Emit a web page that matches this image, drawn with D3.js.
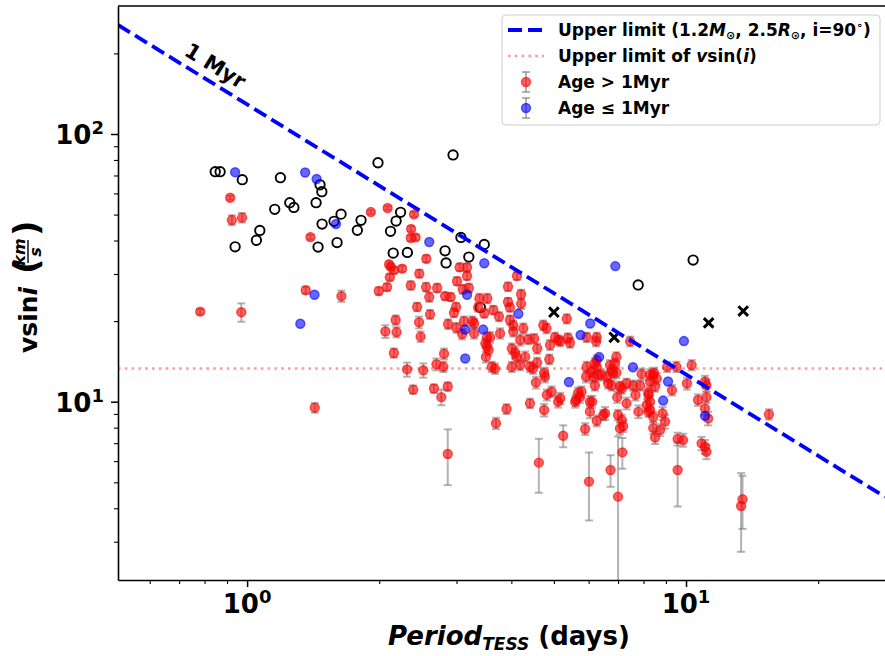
<!DOCTYPE html>
<html>
<head>
<meta charset="utf-8">
<title>vsini vs TESS period</title>
<script src="https://d3js.org/d3.v7.min.js"></script>
<style>
  body { margin: 0; background: #fff; }
  svg text { font-family: "DejaVu Sans", sans-serif; font-weight: bold; }
</style>
</head>
<body>
<svg id="chart" width="885" height="656"></svg>
<script>
// axis limits and ticks
var xDomain = [0.508, 28.55];
var yDomain = [2.158, 300.7];
var xMajor = [1, 10];
var xMinor = [0.6, 0.7, 0.8, 0.9, 2, 3, 4, 5, 6, 7, 8, 9, 20];
var yMajor = [10, 100];
var yMinor = [3, 4, 5, 6, 7, 8, 9, 20, 30, 40, 50, 60, 70, 80, 90, 200];
var xTickLabels = [["10", "0"], ["10", "1"]];
var yTickLabels = [["10", "1"], ["10", "2"]];

// upper limit line (1.2 Msun, 2.5 Rsun, i=90) and vsini limit
var upperLimitP = [0.508, 28.4];
var upperLimitV = [255.4, 4.41];
var vsiniLimit = 13.3;
var myrLabelP = 0.846, myrLabelV = 179.5;

// Age > 1 Myr : [period, vsini, error]
var olderStars = [
  [0.915, 57.8, 1.0], [0.923, 47.7, 2.0], [0.974, 48.7, 2.0], [0.782, 21.7, 0.5], [0.970, 21.6, 1.7],
  [1.394, 41.2, 0.8], [1.360, 26.1, 0.8], [1.640, 24.8, 1.2], [1.426, 9.5, 0.4], [1.914, 51.1, 0.8],
  [2.090, 52.9, 0.8], [2.400, 50.1, 1.0], [2.364, 44.2, 1.0], [2.360, 40.9, 1.0], [2.420, 41.1, 1.0],
  [2.106, 32.6, 0.8], [2.125, 31.9, 0.8], [2.162, 31.0, 0.8], [2.255, 31.4, 0.8], [2.114, 29.2, 0.8],
  [1.995, 25.9, 0.8], [2.084, 26.8, 0.8], [2.360, 27.2, 1.0], [2.468, 30.1, 1.0], [2.560, 34.2, 1.0],
  [2.557, 26.8, 1.0], [2.600, 24.6, 1.0], [2.710, 26.6, 1.0], [2.440, 22.6, 0.8], [2.611, 21.2, 0.8],
  [2.180, 20.2, 0.8], [2.465, 19.8, 1.0], [2.065, 18.3, 1.0], [2.190, 18.2, 0.8], [2.485, 17.5, 0.8],
  [2.160, 15.2, 0.6], [2.314, 13.2, 0.8], [2.520, 13.1, 0.8], [2.700, 13.8, 0.7], [2.800, 13.5, 0.6],
  [2.390, 11.1, 0.4], [2.665, 11.2, 0.4], [2.770, 10.4, 0.7], [2.810, 15.1, 0.7], [2.865, 11.4, 0.4],
  [2.865, 6.38, 1.5],
  [2.825, 24.8, 0.8], [2.910, 24.6, 0.8], [3.050, 31.8, 1.0], [3.170, 31.8, 1.0], [3.170, 29.5, 1.0],
  [3.008, 28.2, 1.0], [3.100, 26.3, 1.0], [3.200, 26.6, 1.0], [3.383, 24.3, 1.0], [3.525, 24.3, 1.0],
  [3.360, 22.5, 0.8], [3.470, 21.4, 0.8], [2.993, 22.6, 0.8], [2.960, 21.5, 0.8], [2.870, 19.5, 0.8],
  [3.000, 18.9, 0.8], [3.120, 20.0, 0.8], [3.260, 20.0, 0.8], [3.290, 19.6, 0.8], [3.090, 17.9, 0.8],
  [3.290, 18.0, 0.8], [3.520, 17.4, 0.8], [3.520, 16.1, 0.7], [3.500, 14.7, 0.7], [3.640, 22.0, 0.8],
  [3.750, 20.8, 0.8], [3.930, 26.9, 1.0], [4.120, 29.5, 1.0], [4.210, 25.2, 1.0], [4.210, 23.2, 1.0],
  [3.930, 23.6, 0.8], [3.970, 22.5, 0.8], [3.970, 20.2, 0.8], [4.040, 19.3, 0.8], [4.040, 18.3, 0.8],
  [4.190, 17.0, 0.8], [4.260, 18.8, 0.8], [3.770, 18.0, 0.8], [3.580, 17.4, 0.8], [3.490, 16.5, 0.7],
  [3.550, 15.6, 0.7], [3.610, 13.5, 0.6], [3.670, 13.3, 0.6], [4.010, 15.8, 0.7], [4.080, 15.2, 0.7],
  [4.110, 14.7, 0.7], [4.190, 13.7, 0.6], [4.010, 13.5, 0.6], [4.410, 13.5, 0.6], [4.480, 13.3, 0.6],
  [4.300, 14.7, 0.7], [4.580, 14.0, 0.6], [4.370, 17.1, 0.7], [4.510, 17.2, 0.7], [4.580, 15.8, 0.7],
  [4.730, 19.3, 0.8], [4.810, 18.8, 0.8], [4.900, 16.3, 0.7], [4.880, 14.4, 0.6], [5.030, 17.4, 0.7],
  [5.120, 17.0, 0.7], [5.380, 17.3, 0.7], [5.440, 16.6, 0.7], [5.350, 20.4, 0.8], [4.750, 12.8, 0.6],
  [4.770, 12.4, 0.6], [4.550, 11.8, 0.6], [3.690, 8.31, 0.4], [3.900, 9.39, 0.4], [4.410, 9.86, 0.4],
  [4.750, 9.31, 0.5], [4.620, 5.92, 1.35], [4.820, 10.6, 0.5], [4.940, 10.9, 0.5], [5.110, 10.0, 0.5],
  [5.250, 7.46, 0.7],
  [5.620, 10.15, 0.5], [5.730, 10.4, 0.5], [5.780, 10.9, 0.5], [5.890, 7.91, 0.4], [6.040, 9.18, 0.5],
  [6.110, 10.0, 0.5], [6.010, 5.03, 1.43], [6.260, 8.49, 0.4], [6.540, 9.05, 0.5], [6.730, 5.56, 0.75],
  [5.940, 13.5, 0.6], [6.090, 12.95, 0.6], [6.140, 12.4, 0.6], [6.300, 12.6, 0.6], [6.200, 13.9, 0.6],
  [6.260, 14.3, 0.6], [6.410, 12.6, 0.6], [6.710, 13.7, 0.6], [6.770, 13.1, 0.6], [6.820, 12.8, 0.6],
  [6.940, 14.7, 0.6], [6.650, 11.7, 0.5], [6.770, 11.5, 0.5], [7.070, 11.4, 0.5], [7.320, 11.7, 0.5],
  [7.580, 11.5, 0.5], [6.970, 10.4, 0.5], [7.320, 9.86, 0.5], [7.670, 10.6, 0.5], [7.860, 11.5, 0.5],
  [7.920, 12.7, 0.6], [8.280, 12.6, 0.6], [8.420, 12.6, 0.6], [8.580, 12.2, 0.6], [8.210, 10.6, 0.5],
  [7.790, 9.18, 0.5], [8.140, 9.72, 0.5], [8.280, 9.31, 0.5], [7.000, 8.92, 0.4], [7.140, 8.54, 0.4],
  [7.070, 7.95, 0.4], [7.160, 6.47, 0.85], [7.000, 4.42, 3.0], [8.840, 9.05, 0.5], [8.960, 8.43, 0.5],
  [8.420, 7.97, 0.4], [8.500, 7.35, 0.4], [8.726, 7.84, 0.4], [9.570, 7.26, 0.4], [9.850, 7.19, 0.4],
  [9.570, 5.56, 1.5], [9.060, 13.5, 0.6], [9.510, 13.5, 0.6], [10.30, 13.7, 0.6], [10.05, 11.7, 0.6],
  [9.290, 11.05, 0.5], [10.65, 10.15, 0.5], [11.05, 11.9, 0.6], [11.13, 11.5, 0.6], [11.13, 10.4, 0.5],
  [11.05, 9.44, 0.5], [11.23, 8.66, 0.5], [10.85, 6.99, 0.4], [11.05, 6.79, 0.4], [11.13, 6.50, 0.4],
  [15.45, 8.97, 0.4], [13.35, 4.08, 1.33], [13.45, 4.32, 0.97], [5.170, 16.8, 0.7], [5.940, 17.4, 0.7],
  [6.260, 17.4, 0.7], [6.240, 16.8, 0.7], [7.460, 16.8, 0.7], [6.890, 13.9, 0.6], [6.940, 12.85, 0.6],
  [6.260, 13.5, 0.6], [5.920, 12.4, 0.6], [6.600, 12.4, 0.6], [8.450, 12.8, 0.6], [5.170, 10.3, 0.5],
  [5.680, 10.8, 0.5], [5.590, 10.0, 0.5], [6.200, 11.5, 0.5], [7.140, 11.2, 0.5], [8.280, 11.9, 0.5],
  [8.500, 11.4, 0.5], [6.040, 10.0, 0.5], [8.210, 10.8, 0.5], [8.280, 10.0, 0.5], [6.480, 8.92, 0.4],
  [8.210, 9.18, 0.4], [8.420, 8.77, 0.4], [7.190, 8.10, 0.4]
];

// Age <= 1 Myr : [period, vsini]
var youngStars = [
  [0.939, 72.0], [1.356, 71.8], [1.440, 67.9], [1.594, 46.1], [2.600, 39.5], [1.424, 25.1],
  [1.322, 19.55], [3.470, 32.9], [3.170, 25.1], [3.140, 18.6], [3.450, 18.6], [3.140, 14.5],
  [4.150, 21.3], [6.900, 32.1], [6.050, 19.6], [5.750, 17.75], [6.340, 14.7], [7.570, 13.45],
  [5.410, 11.85], [9.100, 11.9], [8.870, 10.1], [9.890, 16.85], [11.05, 8.86]
];

// open circles : [period, vsini]
var openStars = [
  [0.846, 72.3], [0.868, 72.3], [0.975, 67.5], [1.191, 68.7], [1.466, 64.6], [1.480, 60.9],
  [1.436, 55.4], [1.251, 55.4], [1.278, 53.2], [1.156, 52.3], [1.637, 50.2], [1.482, 46.1],
  [1.578, 47.2], [1.818, 47.6], [1.783, 43.7], [1.069, 43.6], [1.050, 40.1], [0.939, 37.9],
  [1.451, 37.8], [1.603, 39.3], [1.987, 78.1], [2.237, 51.0], [2.185, 47.3], [2.122, 43.3],
  [2.152, 35.9], [2.318, 36.1], [3.070, 41.1], [2.825, 36.6], [2.840, 33.0], [3.200, 34.7],
  [3.470, 38.7], [3.400, 22.5], [2.946, 83.5], [10.38, 33.8], [7.780, 27.3]
];

// crosses : [period, vsini]
var crossStars = [[5.00, 21.6], [6.86, 17.4], [11.26, 19.7], [13.50, 21.8]];

var svg = d3.select("#chart");
var pLeft = 118, pRight = 886, pTop = 6, pBottom = 580;

var x = d3.scaleLog().domain(xDomain).range([pLeft, pRight]);
var y = d3.scaleLog().domain(yDomain).range([pBottom, pTop]);

svg.append("clipPath").attr("id", "plotClip")
  .append("rect").attr("x", pLeft).attr("y", pTop).attr("width", pRight - pLeft).attr("height", pBottom - pTop);

var plot = svg.append("g").attr("clip-path", "url(#plotClip)");

// pink dotted line
plot.append("line")
  .attr("x1", pLeft).attr("x2", pRight)
  .attr("y1", y(vsiniLimit)).attr("y2", y(vsiniLimit))
  .attr("stroke", "#ff9a9a").attr("stroke-width", 2.6)
  .attr("stroke-dasharray", "2.6,4.2");

// open circles and crosses
plot.selectAll(".open").data(openStars).enter().append("circle")
  .attr("cx", function(d) { return x(d[0]); })
  .attr("cy", function(d) { return y(d[1]); })
  .attr("r", 4.7)
  .attr("fill", "none").attr("stroke", "#000").attr("stroke-width", 1.9);

var cs = 4.8;
plot.selectAll(".cross").data(crossStars).enter().append("path")
  .attr("d", function(d) {
    var cx = x(d[0]), cy = y(d[1]);
    return "M" + (cx - cs) + "," + (cy - cs) + "L" + (cx + cs) + "," + (cy + cs) +
      "M" + (cx - cs) + "," + (cy + cs) + "L" + (cx + cs) + "," + (cy - cs);
  })
  .attr("stroke", "#000").attr("stroke-width", 3);

// error bars for older stars
var eb = plot.append("g").attr("stroke", "#808080").attr("stroke-opacity", 0.6).attr("stroke-width", 2);
olderStars.forEach(function(d) {
  var cx = x(d[0]);
  var lo = d[1] - d[2] > 0.1 ? y(d[1] - d[2]) : pBottom + 20;
  var hi = y(d[1] + d[2]);
  eb.append("line").attr("x1", cx).attr("x2", cx).attr("y1", lo).attr("y2", hi);
  eb.append("line").attr("x1", cx - 4).attr("x2", cx + 4).attr("y1", lo).attr("y2", lo);
  eb.append("line").attr("x1", cx - 4).attr("x2", cx + 4).attr("y1", hi).attr("y2", hi);
});

plot.selectAll(".old").data(olderStars).enter().append("circle")
  .attr("cx", function(d) { return x(d[0]); })
  .attr("cy", function(d) { return y(d[1]); })
  .attr("r", 4.5)
  .attr("fill", "red").attr("fill-opacity", 0.62)
  .attr("stroke", "red").attr("stroke-opacity", 0.62).attr("stroke-width", 1.4);

plot.selectAll(".young").data(youngStars).enter().append("circle")
  .attr("cx", function(d) { return x(d[0]); })
  .attr("cy", function(d) { return y(d[1]); })
  .attr("r", 4.5)
  .attr("fill", "blue").attr("fill-opacity", 0.6)
  .attr("stroke", "blue").attr("stroke-opacity", 0.6).attr("stroke-width", 1.4);

// dashed upper limit
plot.append("line")
  .attr("x1", x(upperLimitP[0])).attr("y1", y(upperLimitV[0]))
  .attr("x2", x(upperLimitP[1])).attr("y2", y(upperLimitV[1]))
  .attr("stroke", "blue").attr("stroke-width", 3.8)
  .attr("stroke-dasharray", "14,6");

var ang = Math.atan2(y(upperLimitV[1]) - y(upperLimitV[0]), x(upperLimitP[1]) - x(upperLimitP[0])) * 180 / Math.PI;
svg.append("text")
  .attr("transform", "translate(" + x(myrLabelP) + "," + y(myrLabelV) + ") rotate(" + ang + ")")
  .attr("text-anchor", "middle").attr("dominant-baseline", "central")
  .attr("font-size", 21).text("1 Myr");

// axes
svg.append("g").attr("transform", "translate(0," + pBottom + ")")
  .call(d3.axisBottom(x).tickValues(xMajor).tickSize(7).tickSizeOuter(0).tickFormat(""))
  .call(function(g) { g.selectAll("line").attr("stroke-width", 1.5); g.select(".domain").attr("stroke-width", 1.6); });
svg.append("g").attr("transform", "translate(0," + pBottom + ")")
  .call(d3.axisBottom(x).tickValues(xMinor).tickSize(4).tickSizeOuter(0).tickFormat(""))
  .call(function(g) { g.select(".domain").remove(); g.selectAll("line").attr("stroke-width", 1.1); });
svg.append("g").attr("transform", "translate(" + pLeft + ",0)")
  .call(d3.axisLeft(y).tickValues(yMajor).tickSize(7).tickSizeOuter(0).tickFormat(""))
  .call(function(g) { g.selectAll("line").attr("stroke-width", 1.5); g.select(".domain").attr("stroke-width", 1.6); });
svg.append("g").attr("transform", "translate(" + pLeft + ",0)")
  .call(d3.axisLeft(y).tickValues(yMinor).tickSize(4).tickSizeOuter(0).tickFormat(""))
  .call(function(g) { g.select(".domain").remove(); g.selectAll("line").attr("stroke-width", 1.1); });
svg.append("line").attr("x1", pLeft).attr("x2", pRight).attr("y1", pTop).attr("y2", pTop)
  .attr("stroke", "#000").attr("stroke-width", 1.6);

xMajor.forEach(function(v, i) {
  var t = svg.append("text").attr("x", x(v)).attr("y", 613).attr("text-anchor", "middle").attr("font-size", 26);
  t.append("tspan").text(xTickLabels[i][0]);
  t.append("tspan").attr("font-size", 18).attr("dy", -10).text(xTickLabels[i][1]);
});
yMajor.forEach(function(v, i) {
  var t = svg.append("text").attr("x", 104).attr("y", y(v) + 10).attr("text-anchor", "end").attr("font-size", 26);
  t.append("tspan").text(yTickLabels[i][0]);
  t.append("tspan").attr("font-size", 18).attr("dy", -10).text(yTickLabels[i][1]);
});

// axis titles
var xt = svg.append("text").attr("x", 388).attr("y", 645).attr("font-size", 26);
xt.append("tspan").attr("font-style", "italic").text("Period");
xt.append("tspan").attr("font-style", "italic").attr("font-size", 17).attr("dy", 5).text("TESS");
xt.append("tspan").attr("dy", -5).text(" (days)");

var yt = svg.append("g").attr("transform", "translate(37,353) rotate(-90)");
var ytt = yt.append("text").attr("font-size", 25);
ytt.append("tspan").text("vsin");
ytt.append("tspan").attr("font-style", "italic").text("i");
yt.append("text").attr("x", 79).attr("y", 1).attr("font-size", 34).attr("font-weight", "normal").text("(");
yt.append("text").attr("x", 101).attr("y", -12).attr("text-anchor", "middle").attr("font-size", 16).attr("font-style", "italic").text("km");
yt.append("line").attr("x1", 90).attr("x2", 113).attr("y1", -9).attr("y2", -9).attr("stroke", "#000").attr("stroke-width", 1.4);
yt.append("text").attr("x", 101).attr("y", 4).attr("text-anchor", "middle").attr("font-size", 16).attr("font-style", "italic").text("s");
yt.append("text").attr("x", 117).attr("y", 1).attr("font-size", 34).attr("font-weight", "normal").text(")");

// legend
var lg = svg.append("g");
lg.append("rect").attr("x", 502).attr("y", 15).attr("width", 378).attr("height", 110).attr("rx", 4)
  .attr("fill", "#fff").attr("fill-opacity", 0.8).attr("stroke", "#cccccc").attr("stroke-width", 1);
lg.append("line").attr("x1", 508).attr("x2", 544).attr("y1", 30).attr("y2", 30)
  .attr("stroke", "blue").attr("stroke-width", 3.8).attr("stroke-dasharray", "14,6");
lg.append("line").attr("x1", 508).attr("x2", 544).attr("y1", 56).attr("y2", 56)
  .attr("stroke", "#ff9a9a").attr("stroke-width", 2.6).attr("stroke-dasharray", "2.6,4.2");
[[82, "red", 0.62], [108, "blue", 0.6]].forEach(function(r) {
  var g = lg.append("g");
  g.append("line").attr("x1", 526).attr("x2", 526).attr("y1", r[0] - 10).attr("y2", r[0] + 10)
    .attr("stroke", "#808080").attr("stroke-opacity", 0.6).attr("stroke-width", 2);
  g.append("line").attr("x1", 522).attr("x2", 530).attr("y1", r[0] - 10).attr("y2", r[0] - 10)
    .attr("stroke", "#808080").attr("stroke-opacity", 0.6).attr("stroke-width", 2);
  g.append("line").attr("x1", 522).attr("x2", 530).attr("y1", r[0] + 10).attr("y2", r[0] + 10)
    .attr("stroke", "#808080").attr("stroke-opacity", 0.6).attr("stroke-width", 2);
  g.append("circle").attr("cx", 526).attr("cy", r[0]).attr("r", 4.5)
    .attr("fill", r[1]).attr("fill-opacity", r[2]).attr("stroke", r[1]).attr("stroke-opacity", r[2]).attr("stroke-width", 1.4);
});

var l1 = lg.append("text").attr("x", 558).attr("y", 36).attr("font-size", 17);
l1.append("tspan").text("Upper limit (1.2");
l1.append("tspan").attr("font-style", "italic").text("M");
l1.append("tspan").attr("font-size", 11).attr("dy", 3).text("⊙");
l1.append("tspan").attr("dy", -3).text(", 2.5");
l1.append("tspan").attr("font-style", "italic").text("R");
l1.append("tspan").attr("font-size", 11).attr("dy", 3).text("⊙");
l1.append("tspan").attr("dy", -3).text(", i=90");
l1.append("tspan").attr("font-size", 11).attr("dy", -7).text("∘");
l1.append("tspan").attr("dy", 7).text(")");

var l2 = lg.append("text").attr("x", 558).attr("y", 62).attr("font-size", 17);
l2.append("tspan").text("Upper limit of ");
l2.append("tspan").attr("font-style", "italic").text("v");
l2.append("tspan").text("sin(");
l2.append("tspan").attr("font-style", "italic").text("i");
l2.append("tspan").text(")");

lg.append("text").attr("x", 558).attr("y", 88).attr("font-size", 17).text("Age > 1Myr");
lg.append("text").attr("x", 558).attr("y", 114).attr("font-size", 17).text("Age ≤ 1Myr");
</script>
</body>
</html>
